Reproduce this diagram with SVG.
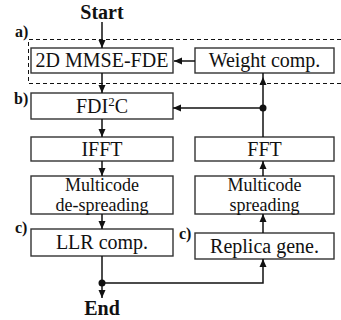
<svg xmlns="http://www.w3.org/2000/svg" width="341" height="320" viewBox="0 0 341 320" font-family="'Liberation Serif', 'Times New Roman', Times, serif">
  <style>
    .box { fill: #fff; stroke: #333; stroke-width: 1.4; }
    .lbl { font-size: 20px; fill: #111; text-anchor: middle; }
    .two { font-size: 18px; }
    .tag { font-size: 16px; font-weight: bold; fill: #111; }
    .term { font-size: 20px; font-weight: bold; fill: #111; text-anchor: middle; }
    .wire { fill: none; stroke: #111; stroke-width: 1.5; }
    .head { fill: #111; }
  </style>
  <defs>
    <marker id="arr" viewBox="0 0 8 8" refX="8" refY="4" markerWidth="8" markerHeight="8" markerUnits="userSpaceOnUse" orient="auto">
      <path d="M0,0.5 L8,4 L0,7.5 Z" fill="#111"/>
    </marker>
  </defs>

  <!-- dashed region a) -->
  <path d="M341,39.5 H28.5 V83.5 H341" fill="none" stroke="#111" stroke-width="1" stroke-dasharray="4,3"/>

  <!-- terminals and tags -->
  <text class="term" x="102" y="19">Start</text>
  <text class="term" x="102" y="315">End</text>
  <text class="tag" x="15" y="37">a)</text>
  <text class="tag" x="14" y="104">b)</text>
  <text class="tag" x="15" y="233">c)</text>
  <text class="tag" x="179" y="239">c)</text>

  <g id="mmse">
    <rect class="box" x="31" y="48" width="142" height="25"/>
    <text class="lbl" x="102" y="67">2D MMSE-FDE</text>
  </g>
  <g id="weight">
    <rect class="box" x="195" y="48" width="139" height="25"/>
    <text class="lbl" x="264.5" y="67">Weight comp.</text>
  </g>
  <g id="fdi2c">
    <rect class="box" x="31" y="93" width="142" height="26"/>
    <text class="lbl" x="102" y="113">FDI<tspan font-size="13" dy="-7">2</tspan><tspan dy="7">C</tspan></text>
  </g>
  <g id="ifft">
    <rect class="box" x="31" y="137" width="142" height="24"/>
    <text class="lbl" x="102" y="156">IFFT</text>
  </g>
  <g id="fft">
    <rect class="box" x="195" y="137" width="139" height="24"/>
    <text class="lbl" x="264.5" y="156">FFT</text>
  </g>
  <g id="despread">
    <rect class="box" x="31" y="176" width="142" height="38"/>
    <text class="lbl two" x="102" y="191">Multicode</text>
    <text class="lbl two" x="102" y="211">de-spreading</text>
  </g>
  <g id="spread">
    <rect class="box" x="195" y="176" width="139" height="38"/>
    <text class="lbl two" x="264.5" y="191">Multicode</text>
    <text class="lbl two" x="264.5" y="211">spreading</text>
  </g>
  <g id="llr">
    <rect class="box" x="31" y="229" width="142" height="27"/>
    <text class="lbl" x="102" y="249">LLR comp.</text>
  </g>
  <g id="replica">
    <rect class="box" x="195" y="233" width="139" height="26"/>
    <text class="lbl" x="264.5" y="253">Replica gene.</text>
  </g>

  <g id="connectors">
    <line class="wire" x1="102" y1="22" x2="102" y2="48" marker-end="url(#arr)"/>
    <line class="wire" x1="102" y1="73" x2="102" y2="93" marker-end="url(#arr)"/>
    <line class="wire" x1="195" y1="61" x2="174" y2="61" marker-end="url(#arr)"/>
    <line class="wire" x1="102" y1="119" x2="102" y2="137" marker-end="url(#arr)"/>
    <line class="wire" x1="102" y1="161" x2="102" y2="176" marker-end="url(#arr)"/>
    <line class="wire" x1="102" y1="214" x2="102" y2="229" marker-end="url(#arr)"/>
    <line class="wire" x1="102" y1="256" x2="102" y2="298" marker-end="url(#arr)"/>
    <polyline class="wire" points="102,283 263,283 263,259" marker-end="url(#arr)"/>
    <line class="wire" x1="263" y1="233" x2="263" y2="214" marker-end="url(#arr)"/>
    <line class="wire" x1="263" y1="176" x2="263" y2="161" marker-end="url(#arr)"/>
    <line class="wire" x1="263" y1="137" x2="263" y2="73"/>
    <path class="head" d="M263,77 L259.5,85 L266.5,85 Z"/>
    <line class="wire" x1="263" y1="108" x2="173" y2="108" marker-end="url(#arr)"/>
    <circle class="head" cx="263" cy="108" r="3.5"/>
    <circle class="head" cx="102" cy="283" r="3.5"/>
  </g>
</svg>
